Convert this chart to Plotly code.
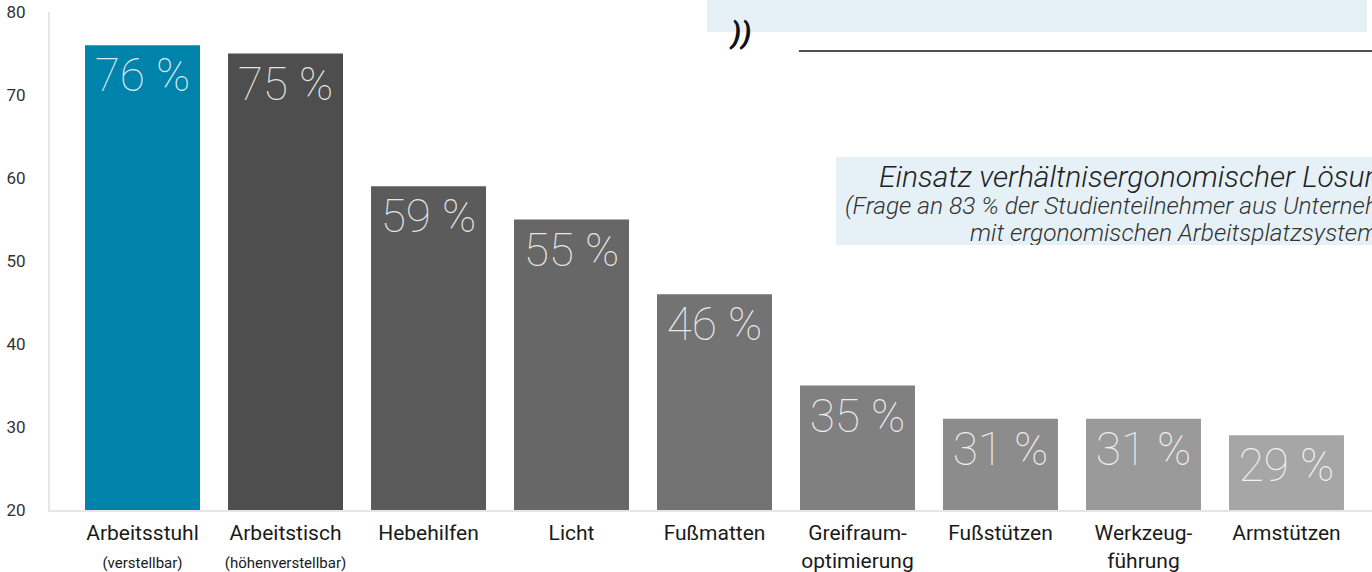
import plotly.graph_objects as go

# data
categories = [
    "Arbeitsstuhl<br><span style='font-size:15px'>(verstellbar)</span>",
    "Arbeitstisch<br><span style='font-size:15px'>(höhenverstellbar)</span>",
    "Hebehilfen",
    "Licht",
    "Fußmatten",
    "Greifraum-<br>optimierung",
    "Fußstützen",
    "Werkzeug-<br>führung",
    "Armstützen",
]
values = [76, 75, 59, 55, 46, 35, 31, 31, 29]
labels = ["76 %", "75 %", "59 %", "55 %", "46 %", "35 %", "31 %", "31 %", "29 %"]
colors = ["#0083aa", "#4e4e4e", "#5b5b5b", "#676767", "#737373",
          "#808080", "#8c8c8c", "#9a9a9a", "#a6a6a6"]
y_ticks = [20, 30, 40, 50, 60, 70, 80]

W, H = 1372, 572
ML, MR, MT, MB = 50, 0, 12, 62


def px_x(x):
    return (x - ML) / (W - ML - MR)


def px_y(y):
    return (H - MB - y) / (H - MT - MB)


fig = go.Figure()

fig.add_trace(go.Bar(
    x=list(range(len(values))),
    y=values,
    marker=dict(color=colors, line=dict(width=0)),
    text=labels,
    textposition="inside",
    insidetextanchor="end",
    textangle=0,
    insidetextfont=dict(family="Roboto", size=46, weight=100,
                        color="rgba(255,255,255,0.85)"),
    hoverinfo="skip",
))

# boxes of the page behind the chart
fig.add_shape(type="rect", xref="paper", yref="paper",
              x0=px_x(707), x1=px_x(1367), y0=px_y(32), y1=px_y(-5),
              fillcolor="#e6f1f7", line=dict(width=0), layer="below")
fig.add_shape(type="line", xref="paper", yref="paper",
              x0=px_x(799), x1=px_x(1380), y0=px_y(51), y1=px_y(51),
              line=dict(color="#505050", width=2))
fig.add_shape(type="rect", xref="paper", yref="paper",
              x0=px_x(836), x1=px_x(1380), y0=px_y(245), y1=px_y(157),
              fillcolor="#e6f1f7", line=dict(width=0), layer="below")

fig.add_annotation(xref="paper", yref="paper", x=px_x(727), y=px_y(33),
                   xanchor="left", yanchor="middle", showarrow=False,
                   text="<i><b>))</b></i>",
                   font=dict(family="Roboto", size=30, color="#111111"))

box_lines = [
    ("Einsatz verhältnisergonomischer Lösungen", 877, 176, 30, "#222222"),
    ("(Frage an 83 % der Studienteilnehmer aus Unternehmen", 843, 205, 24.5, "#333333"),
    ("mit ergonomischen Arbeitsplatzsystemen)", 968, 233, 24.5, "#333333"),
]
for txt, x0, yc, fs, col in box_lines:
    fig.add_annotation(xref="paper", yref="paper", x=px_x(x0), y=px_y(yc),
                       xanchor="left", yanchor="middle", showarrow=False,
                       text="<i>" + txt + "</i>",
                       font=dict(family="Roboto", size=fs, weight=300, color=col))

# the box clips its last line at the bottom
fig.add_annotation(xref="paper", yref="paper", x=px_x(836), y=px_y(245),
                   xanchor="left", yanchor="top", showarrow=False,
                   text=" ", width=540, height=18, bgcolor="white",
                   borderpad=0, borderwidth=0)

fig.update_layout(
    width=W, height=H,
    margin=dict(l=ML, r=MR, t=MT, b=MB),
    paper_bgcolor="white",
    plot_bgcolor="white",
    showlegend=False,
    bargap=0.196,
    font=dict(family="Roboto", color="#222222"),
)

fig.update_xaxes(
    tickmode="array",
    tickvals=list(range(len(categories))),
    ticktext=categories,
    range=[-0.647, 8.598],
    showgrid=False,
    zeroline=False,
    showline=True,
    linecolor="#e6e6e6",
    linewidth=2,
    ticks="",
    tickfont=dict(family="Roboto", size=21, color="#1a1a1a"),
    ticklabelstandoff=3,
    automargin=False,
)

fig.update_yaxes(
    range=[20, 80],
    tickvals=y_ticks,
    showgrid=False,
    zeroline=False,
    showline=True,
    linecolor="#e6e6e6",
    linewidth=2,
    ticks="",
    tickfont=dict(family="Roboto", size=17, color="#333333"),
    ticklabelstandoff=19,
    automargin=False,
)

fig.write_html("out.html", config={"displayModeBar": False},
               post_script="document.body.style.margin='0';")
